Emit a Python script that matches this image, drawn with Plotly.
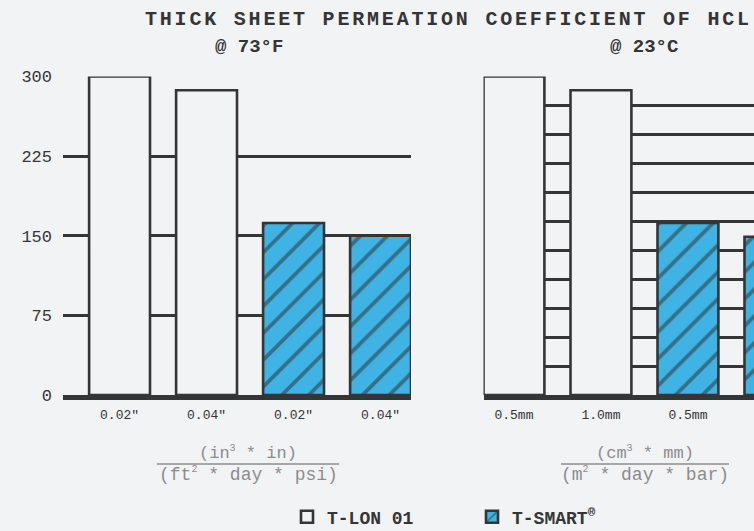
import plotly.graph_objects as go

# ---- data ----
thickness_imperial = ['0.02"', '0.04"', '0.02"', '0.04"']
thickness_metric = ['0.5mm', '1.0mm', '0.5mm', '1.0mm']
tlon_imperial = [300, 287]
tsmart_imperial = [162, 150]
tlon_metric = [300, 287]
tsmart_metric = [162, 149]
y_ticks_left = [0, 75, 150, 225, 300]
series_names = ['T-LON 01', 'T-SMART<sup>®</sup>']

# ---- style ----
BG = '#f2f3f5'
DARK = '#353535'
BLUE = '#3fb3e4'
GRAY = '#8c8c8c'
MONO = 'Liberation Mono, Courier New, monospace'
BAR_W = 0.7
OFF_L = -0.2   # bars sit at right side of band (left panel)
OFF_R = -0.5   # bars sit at left side of band (right panel)

pos_tlon = [0, 1]
pos_tsmart = [2, 3]
all_pos = pos_tlon + pos_tsmart

fig = go.Figure()

def add_pair(tl, ts, xa, ya, off, show):
    fig.add_trace(go.Bar(
        x=pos_tlon, y=tl, width=BAR_W, offset=off, name=series_names[0],
        legendgroup='tlon', showlegend=show, xaxis=xa, yaxis=ya,
        marker=dict(color=BG, line=dict(color=DARK, width=2.6)),
        hoverinfo='skip'))
    fig.add_trace(go.Bar(
        x=pos_tsmart, y=ts, width=BAR_W, offset=off, name=series_names[1],
        legendgroup='tsmart', showlegend=show, xaxis=xa, yaxis=ya,
        marker=dict(color=BLUE, line=dict(color=DARK, width=2.6),
                    pattern=dict(shape='/', fgcolor='#2c2c2c', bgcolor=BLUE,
                                 size=19, solidity=0.2)),
        hoverinfo='skip'))

add_pair(tlon_imperial, tsmart_imperial, 'x', 'y', OFF_L, True)
add_pair(tlon_metric, tsmart_metric, 'x2', 'y2', OFF_R, False)

W, H = 754, 531
y_dom = [(H - 395) / H, (H - 76.5) / H]

common_x = dict(showgrid=False, zeroline=False, showline=True, linecolor=DARK,
                linewidth=5, ticks='', fixedrange=True, automargin=False,
                ticklabelstandoff=3,
                tickfont=dict(family=MONO, size=13, color=DARK))

fig.update_layout(
    width=W, height=H, margin=dict(l=0, r=0, t=0, b=0, autoexpand=False),
    paper_bgcolor=BG, plot_bgcolor=BG, barmode='overlay',
    xaxis=dict(domain=[63 / W, 411 / W], range=[-0.5, 3.5],
               tickvals=[p + OFF_L + BAR_W / 2 for p in all_pos],
               ticktext=thickness_imperial, **common_x),
    xaxis2=dict(domain=[483.5 / W, 1], range=[-0.5, -0.5 + 270.5 / 87],
                tickvals=[p + OFF_R + BAR_W / 2 for p in all_pos],
                ticktext=thickness_metric, anchor='y2', **common_x),
    yaxis=dict(domain=y_dom, range=[0, 300], tickvals=y_ticks_left,
               showgrid=True, gridcolor=DARK, gridwidth=3, zeroline=False,
               showline=False, ticks='', ticklabelstandoff=10, automargin=False,
               tickfont=dict(family=MONO, size=17, color=DARK)),
    yaxis2=dict(domain=y_dom, range=[0, 300], anchor='x2', automargin=False,
                tick0=0, dtick=300 / 11, showticklabels=False,
                showgrid=True, gridcolor=DARK, gridwidth=3, zeroline=False,
                showline=False, ticks=''),
    legend=dict(orientation='h', x=287 / W, xanchor='left', y=(H - 517) / H,
                yanchor='middle', entrywidth=140, bgcolor='rgba(0,0,0,0)',
                font=dict(family=MONO, size=18, color=DARK, weight='bold'),
                itemclick=False, itemdoubleclick=False),
    showlegend=True,
)

# title and subtitles
fig.add_annotation(
    text='<span style="letter-spacing:2.8px">THICK SHEET PERMEATION COEFFICIENT OF HCL</span>',
    x=143 / W, y=(H - 19) / H, xref='paper', yref='paper', xanchor='left',
    yanchor='middle', showarrow=False,
    font=dict(family=MONO, size=20, color=DARK, weight='bold'))
for txt, cx in [('@ 73°F', 248.5), ('@ 23°C', 644)]:
    fig.add_annotation(text=txt, x=cx / W, y=(H - 47) / H, xref='paper',
                       yref='paper', xanchor='center', yanchor='middle',
                       showarrow=False,
                       font=dict(family=MONO, size=19, color=DARK, weight='bold'))

# unit fractions
SUP = '<sup><span style="font-size:10px">{}</span></sup>'
units = [('(in' + SUP.format('3') + ' * in)', '(ft' + SUP.format('2') + ' * day * psi)', 248, 157, 339),
         ('(cm' + SUP.format('3') + ' * mm)', '(m' + SUP.format('2') + ' * day * bar)', 645, 561, 729)]
for num, den, cx, x0, x1 in units:
    fig.add_annotation(text=num, x=cx / W, y=(H - 453) / H, xref='paper', yref='paper',
                       xanchor='center', yanchor='middle', showarrow=False,
                       font=dict(family=MONO, size=17, color=GRAY))
    fig.add_annotation(text=den, x=cx / W, y=(H - 474) / H, xref='paper', yref='paper',
                       xanchor='center', yanchor='middle', showarrow=False,
                       font=dict(family=MONO, size=18, color=GRAY))
    fig.add_shape(type='line', xref='paper', yref='paper', x0=x0 / W, x1=x1 / W,
                  y0=(H - 464) / H, y1=(H - 464) / H,
                  line=dict(color=GRAY, width=1.5))

fig.write_html('out.html', config={'displayModeBar': False},
               post_script="document.body.style.margin='0';"
                           "document.body.style.background='" + BG + "';"
                           "document.body.style.overflow='hidden';")
